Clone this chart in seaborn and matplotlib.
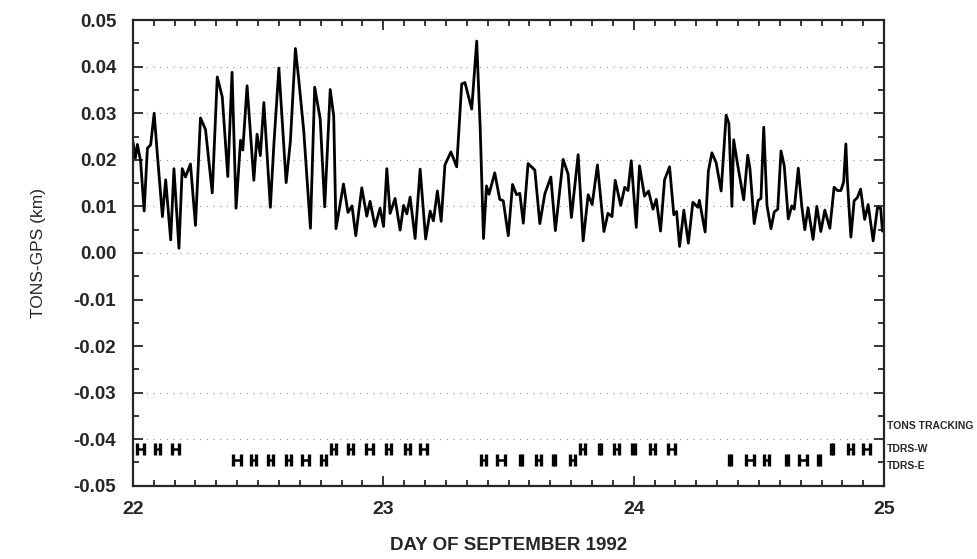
"""
Diferenca TONS-GPS ao longo de 22 a 25 de setembro de 1992,
com as passagens de rastreio TDRS-W / TDRS-E marcadas no fundo do grafico.
"""

import matplotlib

matplotlib.use("Agg")
import matplotlib.pyplot as plt
import seaborn as sns
from matplotlib.ticker import MultipleLocator, FuncFormatter

# =========================================================
# DADOS
# =========================================================
DIA = [
    22.000, 22.010, 22.018, 22.031, 22.045, 22.058, 22.071, 22.085, 22.098, 22.118,
    22.131, 22.151, 22.164, 22.184, 22.197, 22.210, 22.230, 22.250, 22.270, 22.290,
    22.317, 22.337, 22.357, 22.379, 22.396, 22.412, 22.430, 22.439, 22.456, 22.483,
    22.496, 22.509, 22.523, 22.549, 22.563, 22.583, 22.612, 22.629, 22.649, 22.662,
    22.682, 22.709, 22.726, 22.748, 22.766, 22.788, 22.802, 22.811, 22.841, 22.859,
    22.875, 22.890, 22.914, 22.934, 22.947, 22.967, 22.987, 23.001, 23.014, 23.027,
    23.047, 23.067, 23.081, 23.094, 23.107, 23.127, 23.147, 23.169, 23.187, 23.200,
    23.216, 23.231, 23.246, 23.270, 23.293, 23.313, 23.326, 23.353, 23.373, 23.387,
    23.400, 23.412, 23.422, 23.445, 23.465, 23.479, 23.499, 23.516, 23.532, 23.545,
    23.559, 23.578, 23.605, 23.625, 23.645, 23.669, 23.687, 23.718, 23.738, 23.751,
    23.778, 23.798, 23.818, 23.834, 23.855, 23.881, 23.897, 23.913, 23.926, 23.948,
    23.964, 23.977, 23.990, 24.010, 24.023, 24.043, 24.059, 24.077, 24.090, 24.107,
    24.123, 24.143, 24.160, 24.171, 24.183, 24.200, 24.218, 24.236, 24.256, 24.262,
    24.285, 24.298, 24.312, 24.329, 24.349, 24.369, 24.380, 24.392, 24.399, 24.415,
    24.439, 24.455, 24.464, 24.481, 24.497, 24.508, 24.519, 24.532, 24.548, 24.561,
    24.575, 24.588, 24.601, 24.617, 24.631, 24.641, 24.657, 24.671, 24.683, 24.696,
    24.716, 24.731, 24.747, 24.763, 24.783, 24.800, 24.814, 24.827, 24.838, 24.847,
    24.853, 24.867, 24.880, 24.893, 24.906, 24.922, 24.936, 24.956, 24.973, 24.986,
    24.993,
]
TONS_GPS = [
    0.0240, 0.0204, 0.0233, 0.0197, 0.0090, 0.0225, 0.0232, 0.0300, 0.0210, 0.0078,
    0.0157, 0.0028, 0.0181, 0.0010, 0.0181, 0.0163, 0.0191, 0.0059, 0.0290, 0.0265,
    0.0129, 0.0378, 0.0335, 0.0164, 0.0388, 0.0096, 0.0242, 0.0221, 0.0359, 0.0156,
    0.0255, 0.0209, 0.0323, 0.0098, 0.0233, 0.0397, 0.0151, 0.0240, 0.0439, 0.0374,
    0.0264, 0.0053, 0.0356, 0.0288, 0.0099, 0.0351, 0.0294, 0.0052, 0.0148, 0.0087,
    0.0101, 0.0037, 0.0140, 0.0079, 0.0111, 0.0057, 0.0096, 0.0057, 0.0181, 0.0085,
    0.0117, 0.0049, 0.0102, 0.0084, 0.0120, 0.0031, 0.0180, 0.0030, 0.0090, 0.0069,
    0.0133, 0.0068, 0.0189, 0.0217, 0.0185, 0.0363, 0.0366, 0.0309, 0.0455, 0.0266,
    0.0031, 0.0144, 0.0126, 0.0172, 0.0115, 0.0112, 0.0037, 0.0147, 0.0125, 0.0128,
    0.0064, 0.0192, 0.0178, 0.0063, 0.0127, 0.0163, 0.0048, 0.0201, 0.0169, 0.0076,
    0.0211, 0.0026, 0.0125, 0.0104, 0.0189, 0.0046, 0.0085, 0.0078, 0.0156, 0.0102,
    0.0141, 0.0134, 0.0198, 0.0055, 0.0187, 0.0122, 0.0133, 0.0094, 0.0115, 0.0047,
    0.0157, 0.0185, 0.0082, 0.0089, 0.0014, 0.0092, 0.0021, 0.0109, 0.0098, 0.0113,
    0.0045, 0.0176, 0.0215, 0.0194, 0.0133, 0.0296, 0.0278, 0.0100, 0.0243, 0.0189,
    0.0114, 0.0210, 0.0181, 0.0063, 0.0113, 0.0117, 0.0270, 0.0102, 0.0052, 0.0088,
    0.0094, 0.0219, 0.0187, 0.0073, 0.0101, 0.0094, 0.0182, 0.0100, 0.0050, 0.0097,
    0.0029, 0.0100, 0.0046, 0.0092, 0.0053, 0.0141, 0.0134, 0.0134, 0.0152, 0.0234,
    0.0155, 0.0034, 0.0112, 0.0119, 0.0137, 0.0072, 0.0104, 0.0026, 0.0097, 0.0096,
    0.0047,
]

# Passagens de rastreio (centro em dias, duracao em dias)
TDRS_W_DIAS = [
    22.03, 22.10, 22.17, 22.80, 22.87, 22.945, 23.02, 23.095, 23.16,
    23.795, 23.865, 23.93, 24.00, 24.075, 24.15, 24.79, 24.865, 24.93,
]
TDRS_W_DURACAO = [
    0.030, 0.020, 0.030, 0.020, 0.020, 0.030, 0.020, 0.020, 0.030,
    0.020, 0.010, 0.020, 0.010, 0.020, 0.030, 0.008, 0.020, 0.030,
]
TDRS_E_DIAS = [
    22.415, 22.48, 22.55, 22.62, 22.69, 22.76, 23.40, 23.47, 23.55,
    23.62, 23.68, 23.755, 24.385, 24.465, 24.53, 24.61, 24.675, 24.74,
]
TDRS_E_DURACAO = [
    0.030, 0.020, 0.020, 0.020, 0.030, 0.020, 0.020, 0.030, 0.008,
    0.020, 0.008, 0.020, 0.008, 0.030, 0.020, 0.008, 0.030, 0.008,
]

NIVEL_W = -0.042
NIVEL_E = -0.0445


def desenhar_passagens(ax, dias, duracoes, nivel):
    """Marca cada passagem como um intervalo com barras nas pontas."""
    meia = [d / 2 for d in duracoes]
    ax.errorbar(
        dias, [nivel] * len(dias), xerr=meia, fmt="none", ecolor="black",
        elinewidth=1.8, capsize=4.2, capthick=2.4,
    )


def formatar_y(valor, pos):
    """Rotulos com duas casas, sem o '-0.00'."""
    if abs(valor) < 1e-9:
        valor = 0.0
    return f"{valor:.2f}"


def main():
    sns.set_style("ticks")
    plt.rcParams["font.family"] = ["Liberation Sans", "DejaVu Sans"]

    fig = plt.figure(figsize=(9.77, 5.59), dpi=100)
    ax = fig.add_axes([0.136, 0.131, 0.769, 0.833])

    # linhas pontilhadas fracas nos valores principais
    for nivel in [-0.03, -0.04, 0.0, 0.01, 0.02, 0.03, 0.04]:
        ax.axhline(nivel, color="0.6", linestyle=(0, (1, 5)), linewidth=0.8, zorder=0)

    sns.lineplot(x=DIA, y=TONS_GPS, ax=ax, color="black", linewidth=2.0,
                 estimator=None, sort=False)

    desenhar_passagens(ax, TDRS_W_DIAS, TDRS_W_DURACAO, NIVEL_W)
    desenhar_passagens(ax, TDRS_E_DIAS, TDRS_E_DURACAO, NIVEL_E)

    ax.set_xlim(22, 25)
    ax.set_ylim(-0.05, 0.05)
    ax.xaxis.set_major_locator(MultipleLocator(1))
    ax.xaxis.set_minor_locator(MultipleLocator(1 / 12))
    ax.yaxis.set_major_locator(MultipleLocator(0.01))
    ax.yaxis.set_minor_locator(MultipleLocator(0.005))
    ax.yaxis.set_major_formatter(FuncFormatter(formatar_y))
    ax.set_xticks([22, 23, 24, 25])
    ax.set_xticklabels(["22", "23", "24", "25"])

    ax.tick_params(which="both", direction="in", top=True, right=True, width=1.3)
    ax.tick_params(which="major", length=7)
    ax.tick_params(which="minor", length=4)
    ax.tick_params(axis="x", which="major", labelsize=14, pad=11)
    ax.tick_params(axis="y", which="major", labelsize=13.5, pad=12)
    for rotulo in ax.get_xticklabels() + ax.get_yticklabels():
        rotulo.set_fontweight("bold")
    for lado in ax.spines.values():
        lado.set_linewidth(1.6)

    ax.set_xlabel("DAY OF SEPTEMBER 1992", fontsize=13.5, fontweight="bold", labelpad=14)
    ax.set_ylabel("TONS-GPS (km)", fontsize=12.5, labelpad=20)

    # rotulos das linhas de rastreio, do lado direito
    trans = ax.get_yaxis_transform()
    opcoes = dict(transform=trans, fontsize=7.5, fontweight="bold", va="center", ha="left")
    ax.text(1.004, -0.0372, "TONS TRACKING", **opcoes)
    ax.text(1.004, NIVEL_W, "TDRS-W", **opcoes)
    ax.text(1.004, -0.0458, "TDRS-E", **opcoes)

    fig.savefig("out.png", dpi=100)
    plt.close(fig)


if __name__ == "__main__":
    main()
